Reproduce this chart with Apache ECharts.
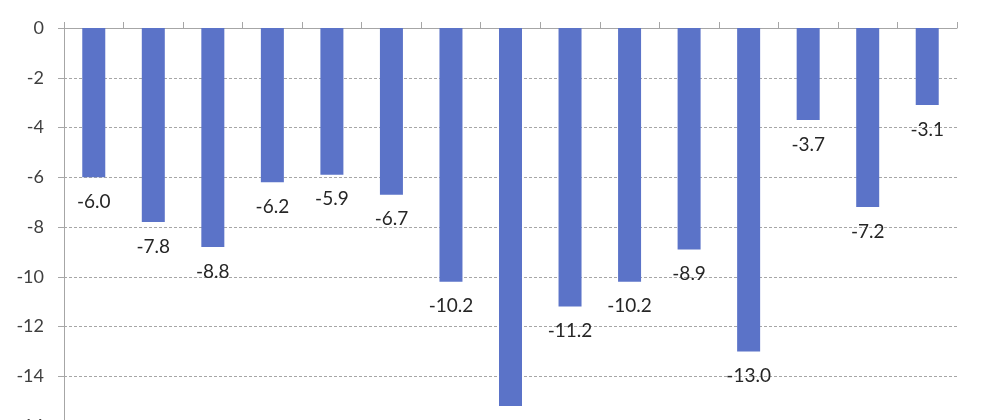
<!DOCTYPE html>
<html><head><meta charset="utf-8">
<script src="https://cdn.jsdelivr.net/npm/echarts@6/dist/echarts.min.js"></script>
<style>html,body{margin:0;padding:0;background:#fff}#c{width:998px;height:420px}</style>
</head><body><div id="c"></div>
<script>
const categories = ['1','2','3','4','5','6','7','8','9','10','11','12','13','14','15'];
const values = [-6.0, -7.8, -8.8, -6.2, -5.9, -6.7, -10.2, -15.2, -11.2, -10.2, -8.9, -13.0, -3.7, -7.2, -3.1];
const yMin = -16, yMax = 0, yStep = 2;

const chart = echarts.init(document.getElementById('c'), null, {renderer: 'canvas'});
chart.setOption({
  animation: false,
  backgroundColor: '#ffffff',
  grid: {left: 64, right: 41, top: 28, bottom: -6, containLabel: false, outerBoundsMode: 'none'},
  xAxis: {
    type: 'category', data: categories, position: 'top',
    axisLine: {show: true, lineStyle: {color: '#a6a6a6', width: 1}},
    axisTick: {show: true, length: 6, lineStyle: {color: '#a6a6a6'}},
    axisLabel: {show: false},
    splitLine: {show: false}
  },
  yAxis: {
    type: 'value', min: yMin, max: yMax, interval: yStep,
    axisLine: {show: true, lineStyle: {color: '#a6a6a6', width: 1}},
    axisTick: {show: true, length: 6, lineStyle: {color: '#a6a6a6'}},
    axisLabel: {color: '#404040', fontSize: 18, fontFamily: 'Lato, "Open Sans", sans-serif', margin: 20},
    splitLine: {show: true, lineStyle: {color: '#a6a6a6', type: [3, 2], width: 1}}
  },
  series: [{
    type: 'bar', data: values, barWidth: 23,
    itemStyle: {color: '#5b73c8'},
    label: {
      show: true, position: 'bottom', distance: 15,
      color: '#262626', fontSize: 19, fontFamily: 'Lato, "Open Sans", sans-serif',
      formatter: p => p.value.toFixed(1)
    }
  }]
});
</script></body></html>
